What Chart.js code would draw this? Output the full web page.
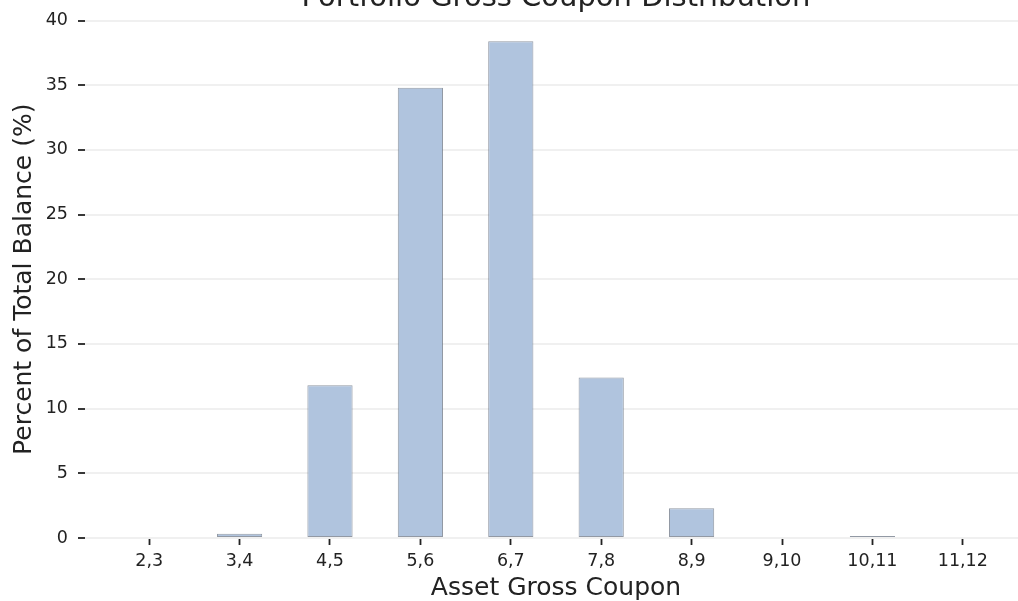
<!DOCTYPE html>
<html>
<head>
<meta charset="utf-8">
<script src="https://cdn.jsdelivr.net/npm/chart.js@4.4.1/dist/chart.umd.min.js"></script>
<style>
    html, body { margin: 0; padding: 0; background: #fff; overflow: hidden; }
    .chartBox { width: 1018px; height: 601px; overflow: hidden; position: relative; }
    .chartBox canvas { position: absolute; left: 0; top: 0; }
</style>
</head>
<body>
<div class="chartBox">
    <canvas id="couponChart" width="1027" height="601"></canvas>
</div>
<script>
const coupons = ['2,3', '3,4', '4,5', '5,6', '6,7', '7,8', '8,9', '9,10', '10,11', '11,12'];
const balancePct = [0, 0.33, 11.8, 34.8, 38.4, 12.4, 2.3, 0, 0.15, 0];
const yTicks = [0, 5, 10, 15, 20, 25, 30, 35, 40];

const FONT = "'DejaVu Sans', sans-serif";

// title sits over the middle of the plot area, top half clipped like the original
const plotTitle = {
    id: 'plotTitle',
    afterDraw(chart) {
        const { ctx, chartArea } = chart;
        ctx.save();
        ctx.font = '29px ' + FONT;
        ctx.fillStyle = '#222';
        ctx.textAlign = 'center';
        ctx.textBaseline = 'alphabetic';
        ctx.fillText('Portfolio Gross Coupon Distribution', (chartArea.left + chartArea.right) / 2, 6);
        ctx.restore();
    }
};

const ctx = document.getElementById('couponChart').getContext('2d');
new Chart(ctx, {
    type: 'bar',
    data: {
        datasets: [
            {
                data: coupons.map((c, i) => ({ x: i, y: balancePct[i] })),
                backgroundColor: '#B0C4DE',
                borderColor: 'rgba(100,110,125,0.7)',
                borderWidth: 1,
                borderSkipped: false,
                barPercentage: 0.5,
                categoryPercentage: 1.0
            }
        ]
    },
    options: {
        responsive: false,
        animation: false,
        layout: { padding: { top: 20, left: 0, right: 0, bottom: 0 } },
        plugins: {
            legend: { display: false },
            tooltip: { enabled: false }
        },
        scales: {
            x: {
                type: 'linear',
                min: -0.71,
                max: 9.71,
                offset: false,
                afterFit: (scale) => { scale.height = 63; },
                afterBuildTicks: (scale) => { scale.ticks = coupons.map((c, i) => ({ value: i })); },
                border: { display: false },
                grid: {
                    offset: false,
                    drawOnChartArea: false,
                    drawTicks: true,
                    tickLength: 7,
                    tickColor: '#222',
                    tickWidth: 1.8
                },
                ticks: {
                    autoSkip: false,
                    maxRotation: 0,
                    padding: 6,
                    color: '#222',
                    font: { family: FONT, size: 17.5 },
                    callback: (v) => coupons[v]
                },
                title: {
                    display: true,
                    text: 'Asset Gross Coupon',
                    color: '#222',
                    font: { family: FONT, size: 25, lineHeight: 1.0 },
                    padding: { top: 0, bottom: 0 }
                }
            },
            y: {
                min: 0,
                max: 40,
                afterFit: (scale) => { scale.width = 85; },
                afterBuildTicks: (scale) => { scale.ticks = yTicks.map(v => ({ value: v })); },
                border: { display: false },
                grid: {
                    color: '#f0f0f0',
                    lineWidth: 2,
                    drawTicks: true,
                    tickLength: 7,
                    tickColor: '#222',
                    tickWidth: 1.8
                },
                ticks: {
                    padding: 10,
                    color: '#222',
                    font: { family: FONT, size: 17.5 }
                },
                title: {
                    display: true,
                    text: 'Percent of Total Balance (%)',
                    color: '#222',
                    font: { family: FONT, size: 25, lineHeight: 1.2 },
                    padding: { top: 9, bottom: 0 }
                }
            }
        }
    },
    plugins: [plotTitle]
});
</script>
</body>
</html>
